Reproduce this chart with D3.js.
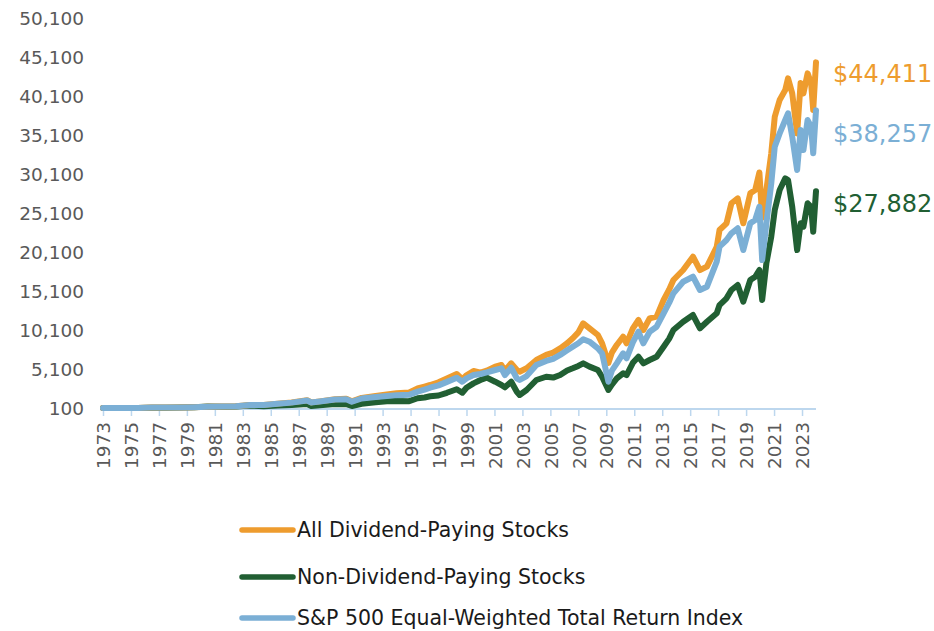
<!DOCTYPE html>
<html>
<head>
<meta charset="utf-8">
<script src="https://cdn.jsdelivr.net/npm/d3@7"></script>
<style>
  html, body { margin: 0; padding: 0; background: #fff; }
  svg { display: block; }
</style>
</head>
<body>
<svg id="chart" width="934" height="631"></svg>
<script>
// ---- data ----
const dates = [1973.0,1974.0,1974.8,1975.5,1976.5,1977.5,1978.5,1979.5,1980.5,1981.5,1982.5,1983.5,1984.5,1985.5,1986.5,1987.6,1987.9,1988.5,1989.6,1990.4,1990.8,1991.5,1992.5,1993.3,1994.0,1994.9,1995.5,1996.0,1996.4,1997.0,1997.6,1998.3,1998.7,1999.0,1999.5,2000.0,2000.45,2001.05,2001.5,2001.75,2002.2,2002.6,2002.8,2003.3,2004.0,2004.7,2005.2,2005.7,2006.2,2006.6,2007.0,2007.35,2007.8,2008.4,2008.7,2009.15,2009.4,2009.75,2010.2,2010.45,2010.9,2011.3,2011.65,2012.1,2012.6,2013.1,2013.5,2013.8,2014.5,2015.2,2015.7,2016.2,2016.9,2017.1,2017.6,2017.95,2018.4,2018.8,2019.3,2019.65,2019.95,2020.15,2020.45,2020.8,2021.05,2021.4,2021.8,2022.0,2022.3,2022.65,2022.9,2023.1,2023.4,2023.65,2023.8,2024.0];

const dividendPayers = [100,95,90,110,150,150,170,210,270,290,330,470,500,660,820,1100,820,950,1230,1280,960,1400,1650,1850,2000,2100,2600,2850,3050,3400,3900,4460,3780,4300,4840,4630,4880,5400,5610,4880,5830,4970,4750,5190,6250,6900,7200,7750,8400,9040,9800,10960,10320,9460,8390,5870,7200,8180,9240,8390,10300,11380,10100,11590,11810,13950,15300,16510,17790,19500,17790,18220,20780,22920,23780,26350,26980,23780,27620,28050,30300,24500,28050,32750,37440,39590,40870,42370,40440,35310,41760,40440,43000,41760,38300,44411];

const sp500EqualWeighted = [100,95,90,110,150,150,170,210,270,290,330,470,490,640,790,1060,800,920,1180,1220,900,1320,1520,1650,1750,1800,2200,2450,2700,3000,3450,3990,3470,3900,4330,4460,4670,4970,5190,4330,5260,3900,3690,4200,5610,6130,6400,6900,7500,7960,8400,8910,8600,7750,7110,3470,4900,5830,7110,6470,8500,9880,8390,9880,10520,12240,13600,14800,16290,16930,15230,15650,18860,20780,21640,22500,23140,20350,23780,24200,25900,19070,23780,28900,33600,35310,37020,37880,34890,30610,35740,33170,37020,36160,32750,38257];

const nonDividendPayers = [100,90,85,90,120,130,160,210,280,260,280,420,340,420,470,620,360,450,620,580,360,650,820,950,1000,980,1350,1450,1600,1700,2050,2500,2060,2700,3260,3690,3990,3470,3050,2750,3470,2190,1770,2410,3690,4110,4000,4330,4900,5190,5500,5830,5400,4970,4110,2410,3100,3900,4550,4330,5900,6680,5830,6250,6680,7960,9000,10100,11160,12020,10320,11160,12240,13300,14160,15230,15870,13730,16510,16930,17790,13950,18650,22060,25480,28050,29540,29330,25900,20350,23780,23350,26350,25900,22700,27882];

const seriesNames = ["All Dividend-Paying Stocks", "Non-Dividend-Paying Stocks", "S&P 500 Equal-Weighted Total Return Index"];
const seriesColors = ["#EE9C2E", "#215F33", "#7BAFD5"];
const endLabels = ["$44,411", "$38,257", "$27,882"];
const yTicks = [100,5100,10100,15100,20100,25100,30100,35100,40100,45100,50100];
const xTicks = [1973,1975,1977,1979,1981,1983,1985,1987,1989,1991,1993,1995,1997,1999,2001,2003,2005,2007,2009,2011,2013,2015,2017,2019,2021,2023];

// ---- layout ----
const svg = d3.select("#chart");
const x = d3.scaleLinear().domain([1973, 2024]).range([103, 816]);
const y = d3.scaleLinear().domain([100, 50100]).range([408, 18]);
const axisFont = "'DejaVu Sans', sans-serif";

// y labels
svg.append("g").selectAll("text").data(yTicks).join("text")
  .attr("x", 84).attr("y", d => y(d)).attr("dy", "0.36em")
  .attr("text-anchor", "end")
  .attr("font-family", axisFont).attr("font-size", 18.5)
  .attr("fill", "#595959")
  .text(d => d3.format(",")(d));

// x axis
const axisColor = "#BDD7EE";
const xAxis = d3.axisBottom(x).tickValues(xTicks).tickSize(7).tickFormat(d3.format("d"));
const gx = svg.append("g").attr("transform", "translate(0,409)").call(xAxis);
gx.select(".domain").attr("stroke", axisColor).attr("stroke-width", 2).attr("d", `M${x(1973)},0H${x(2024)}`);
gx.selectAll(".tick line").attr("stroke", axisColor).attr("stroke-width", 1.5);
gx.selectAll(".tick text")
  .attr("font-family", axisFont).attr("font-size", 18.5).attr("fill", "#595959")
  .attr("transform", "rotate(-90)")
  .attr("text-anchor", "end")
  .attr("x", -13).attr("y", 0).attr("dy", "0.36em");

// lines
const dataSets = [dividendPayers, nonDividendPayers, sp500EqualWeighted];
const line = d3.line().x((d, i) => x(dates[i])).y(d => y(d));
const drawOrder = [1, 0, 2];
drawOrder.forEach(k => {
  svg.append("path")
    .datum(dataSets[k])
    .attr("d", line)
    .attr("fill", "none")
    .attr("stroke", seriesColors[k])
    .attr("stroke-width", 6)
    .attr("stroke-linejoin", "round")
    .attr("stroke-linecap", "round");
});

// end labels
const endColors = [seriesColors[0], seriesColors[2], seriesColors[1]];
const endY = [73, 133, 203];
svg.append("g").selectAll("text").data(endLabels).join("text")
  .attr("x", 833).attr("y", (d, i) => endY[i]).attr("dy", "0.36em")
  .attr("font-family", axisFont).attr("font-size", 24)
  .attr("fill", (d, i) => endColors[i])
  .text(d => d);

// legend
const legendY = [530, 577, 618];
const lg = svg.append("g");
seriesNames.forEach((name, i) => {
  lg.append("line").attr("x1", 242).attr("x2", 293).attr("y1", legendY[i]).attr("y2", legendY[i])
    .attr("stroke", seriesColors[i]).attr("stroke-width", 5.5).attr("stroke-linecap", "round");
  lg.append("text").attr("x", 297).attr("y", legendY[i]).attr("dy", "0.36em")
    .attr("font-family", axisFont).attr("font-size", 20.5)
    .attr("fill", "#1a1a1a").text(name);
});
</script>
</body>
</html>
